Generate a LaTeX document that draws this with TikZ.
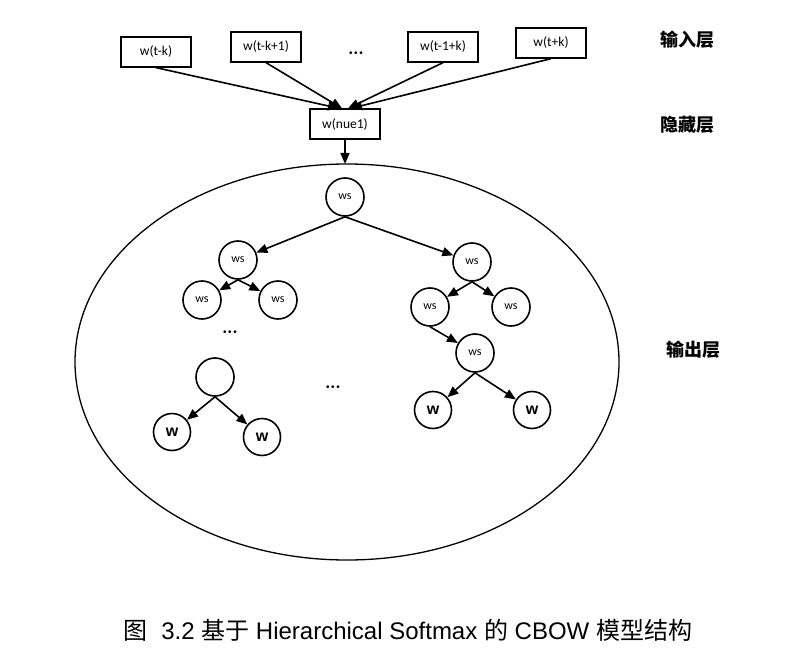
\documentclass[tikz,border=0pt]{standalone}
\usepackage{fontspec}
\usetikzlibrary{arrows.meta}
\setmainfont{Liberation Sans}
\newfontfamily\cjk{Noto Sans CJK SC}
\newfontfamily\boxfont{Carlito}
\tikzset{
  wbox/.style={draw,line width=1.3pt,minimum height=30pt,minimum width=70pt,inner sep=3pt,font=\boxfont\fontsize{13.5}{15}\selectfont},
  wsnode/.style={circle,draw,line width=1.6pt,minimum size=38pt,inner sep=0pt,font=\boxfont\fontsize{12}{13}\selectfont},
  wleaf/.style={wsnode,minimum size=37pt,font=\bfseries\fontsize{16}{17}\selectfont},
  arr/.style={line width=1.6pt,-{Triangle[length=11pt,width=9pt]}},
  lyr/.style={font=\cjk\bfseries\fontsize{18}{20}\selectfont},
  dots/.style={font=\fontsize{10}{10}\selectfont}
}

\begin{document}
\begin{tikzpicture}[x=1pt,y=-1pt]
  \useasboundingbox (0,0) rectangle (786,671);
  % input and hidden layer
  \node[wbox] (in1) at (156,52) {w(t-k)};
  \node[wbox] (in2) at (266,47) {w(t-k+1)};
  \node[dots] (indots) at (356,54) {•\,•\,•};
  \node[wbox] (in3) at (443,47) {w(t-1+k)};
  \node[wbox] (in4) at (551,43) {w(t+k)};
  \node[wbox] (hid) at (345,124) {w(nue1)};
  \node[lyr] (lin) at (687,40) {输入层};
  \node[lyr] (lhid) at (687,125) {隐藏层};
  \node[lyr] (lout) at (693,350) {输出层};
  \draw[arr] (in1.south) -- ([xshift=-6pt]hid.north);
  \draw[arr] (in2.south) -- ([xshift=-3pt]hid.north);
  \draw[arr] (in3.south) -- ([xshift=3pt]hid.north);
  \draw[arr] (in4.south) -- ([xshift=6pt]hid.north);
  % output layer
  \draw[line width=1.3pt] (347,362) ellipse [x radius=272pt, y radius=198pt];
  \coordinate (etop) at (345,164);
  \draw[arr] (hid.south) -- (etop);
  \node[wsnode] (r) at (345,197) {ws};
  \node[wsnode] (a) at (238,260) {ws};
  \node[wsnode] (b) at (472,262) {ws};
  \node[wsnode] (aa) at (202,300) {ws};
  \node[wsnode] (ab) at (278,300) {ws};
  \node[wsnode] (ba) at (430,307) {ws};
  \node[wsnode] (bb) at (511,307) {ws};
  \node[wsnode] (bac) at (475,353) {ws};
  \node[wsnode] (e) at (215,377) {};
  \node[wleaf] (e1) at (172,432) {w};
  \node[wleaf] (e2) at (262,437) {w};
  \node[wleaf] (bac1) at (433,410) {w};
  \node[wleaf] (bac2) at (532,410) {w};
  \node[dots] (ldots) at (230,333) {•\,•\,•};
  \node[dots] (mdots) at (333,388) {•\,•\,•};
  \foreach \p/\c in {r/a,r/b,a/aa,a/ab,b/ba,b/bb,ba/bac,e/e1,e/e2,bac/bac1,bac/bac2}
    \draw[arr] (\p.south) -- (\c);
  % caption
  \node[font=\fontsize{24}{28}\selectfont] (cap) at (408,630)
    {{\cjk 图}\ \ 3.2\ {\cjk 基于}\ Hierarchical Softmax\ {\cjk 的}\ CBOW\ {\cjk 模型结构}};
\end{tikzpicture}
\end{document}
